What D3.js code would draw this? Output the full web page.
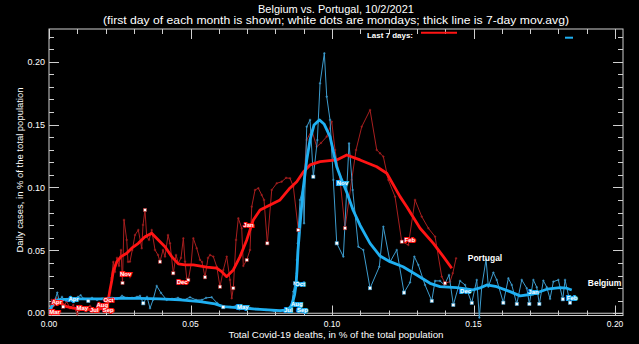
<!DOCTYPE html>
<html><head><meta charset="utf-8">
<script src="https://cdn.jsdelivr.net/npm/d3@7"></script>
<style>
body{margin:0;background:#000}
svg{display:block;font-family:"Liberation Sans",Arial,sans-serif}
</style>
</head><body>
<svg id="chart" width="639" height="344"></svg>
<script>
// Daily cases vs. cumulative deaths, both in % of population.
// Each point: [cumulative deaths %, daily cases %, monday flag]
const portugalDaily = [
[0.00035,0.0042],[0.00095,0.0106],[0.00187,0.0066],[0.00272,0.0119],[0.00389,0.0079],[0.00505,0.0052,1],
[0.00625,0.0092],[0.00742,0.0040],[0.00859,0.0066],[0.0100,-0.0010],[0.01095,0.0058],[0.01237,0.0034,1],
[0.01332,0.0040],[0.01449,0.0058],[0.01625,0.0026],[0.01802,0.0048],[0.01919,0.0013],[0.02039,0.0066],
[0.02095,0.0098,1],[0.02155,0.0169],[0.02208,0.0281],[0.02272,0.0408],[0.02332,0.0328],[0.02403,0.0440],
[0.02473,0.0376],[0.02544,0.0503],[0.02597,0.0241,1],[0.02650,0.0742],[0.02746,0.0583],[0.02792,0.0408],
[0.02860,0.0410],[0.02943,0.0503],[0.03039,0.0622],[0.03155,0.0662],[0.03276,0.0517],[0.03322,0.0702],
[0.03392,0.0821,1],[0.03452,0.0609],[0.03534,0.0583],[0.03629,0.0662],[0.03746,0.0503],[0.03852,0.0463],
[0.03922,0.0410,1],[0.04028,0.0503],[0.04099,0.0450],[0.04205,0.0622],[0.04276,0.0556],[0.04392,0.0318,1],
[0.04488,0.0463],[0.04569,0.0397],[0.04664,0.0440],[0.04746,0.0596],[0.04806,0.0410],[0.04866,0.0278],
[0.04922,0.0265,1],[0.05018,0.0384],[0.05099,0.0596],[0.05219,0.0517],[0.05336,0.0424],[0.05406,0.0408],
[0.05512,0.0286,1],[0.05618,0.0440],[0.05689,0.0463],[0.05806,0.0450],[0.05926,0.0370],[0.06042,0.0211,1],
[0.06159,0.0344],[0.06279,0.0450],[0.06396,0.0265],[0.06456,0.0119],[0.06512,0.0199,1],[0.06608,0.0583],
[0.06689,0.0755],[0.06809,0.0676],[0.06866,0.0376],[0.06986,0.0424,1],[0.07102,0.0503],[0.07163,0.0847],
[0.07279,0.0980],[0.07396,0.0994],[0.07516,0.0940],[0.07597,0.0901],[0.07714,0.0556,1],[0.07869,0.0980],
[0.08046,0.1033],[0.08223,0.1046],[0.08375,0.1076],[0.08516,0.1073],[0.08633,0.1006],[0.08809,0.0662,1],
[0.08986,0.1006],[0.09106,0.1378],[0.09283,0.1457],[0.09459,0.1324],[0.09611,0.1354],[0.09813,0.1404],
[0.09989,0.1523],[0.10106,0.1298],[0.10283,0.1060],[0.10459,0.0676,1],[0.10696,0.1060],[0.10848,0.1298],
[0.11049,0.1483],[0.11343,0.1616],[0.11580,0.1298],[0.11696,0.1272],[0.11813,0.1245],[0.11989,0.1060],
[0.12226,0.0927],[0.12463,0.0569,1],[0.12696,0.0543],[0.12933,0.0901],[0.13170,0.0768],[0.13403,0.0676],
[0.13640,0.0609],[0.13876,0.0291],[0.13993,0.0238,1],[0.14170,0.0251],[0.14265,0.0318],[0.14382,0.0437]
];
const portugalAvg = [
[0,0.0018],[0.00106,0.0050],[0.00212,0.0079],[0.00329,0.0092],[0.00459,0.0074],[0.00625,0.0052],
[0.00859,0.0040],[0.01212,0.0032],[0.01686,0.0026],[0.01919,0.0040],[0.02039,0.0066],[0.02095,0.0106],
[0.02155,0.0185],[0.02216,0.0257],[0.02272,0.0336],[0.02392,0.0408],[0.02544,0.0450],[0.02746,0.0477],
[0.02922,0.0517],[0.03155,0.0556],[0.03392,0.0609],[0.03629,0.0636],[0.03862,0.0583],[0.04099,0.0529],
[0.04336,0.0450],[0.04569,0.0392],[0.04806,0.0384],[0.05099,0.0384],[0.05572,0.0366],[0.05926,0.0358],
[0.06113,0.0328],[0.06279,0.0291],[0.06512,0.0344],[0.06749,0.0450],[0.06986,0.0583],[0.07219,0.0742],
[0.07456,0.0821],[0.07809,0.0861],[0.08163,0.0901],[0.08516,0.0996],[0.08753,0.1046],[0.08986,0.1123],
[0.09223,0.1179],[0.09576,0.1205],[0.10166,0.1219],[0.10519,0.1258],[0.10989,0.1219],[0.11580,0.1165],
[0.11933,0.1113],[0.12403,0.0927],[0.12640,0.0847],[0.13110,0.0676],[0.13580,0.0556],[0.13933,0.0450],
[0.14230,0.0358]
];
const belgiumDaily = [
[0,0.0002],[0.00071,0.0018],[0.00141,0.0058],[0.00212,0.0106],[0.00293,0.0164],[0.00353,0.0106],
[0.00459,0.0130],[0.00601,0.0098],[0.00742,0.0122],[0.00883,0.0106],[0.01025,0.0130],[0.01120,0.0143],
[0.01237,0.0114],[0.01389,0.0098,1],[0.01519,0.0122],[0.01696,0.0106],[0.01873,0.0114],[0.02049,0.0106],
[0.02226,0.0122],[0.02403,0.0114],[0.02580,0.0138],[0.02756,0.0122],[0.02933,0.0122],[0.03110,0.0130],
[0.03216,0.0138],[0.03332,0.0079,1],[0.03463,0.0130],[0.03569,0.0040],[0.03675,0.0106],[0.03806,0.0217],
[0.03958,0.0161],[0.04159,0.0106],[0.04346,0.0114],[0.04558,0.0122],[0.04770,0.0106],[0.04982,0.0127],
[0.05194,0.0106],[0.05406,0.0106],[0.05548,0.0122],[0.05749,0.0127],[0.05936,0.0082],[0.06159,0.0048,1],
[0.06396,0.0050],[0.06608,0.0058],[0.06820,0.0050],[0.07102,0.0042],[0.07385,0.0034],[0.07668,0.0026],
[0.07951,0.0018],[0.08163,0.0018],[0.08339,0.0026],[0.08481,0.0042],[0.08576,0.0079],[0.08633,0.0172],
[0.08693,0.0238,1],[0.08753,0.0318],[0.08760,0.0424],[0.08788,0.0556],[0.08809,0.0662],[0.08869,0.0901],
[0.08986,0.1006],[0.09011,0.0715],[0.09106,0.1483],[0.09223,0.1537],[0.09339,0.1086,1],[0.09481,0.1377],
[0.09576,0.1828],[0.09728,0.2067],[0.09813,0.1722],[0.09929,0.1537],[0.10046,0.1060],[0.10166,0.0556,1],
[0.10399,0.0450],[0.10601,0.1351],[0.10731,0.0980],[0.10929,0.0529],[0.11106,0.0503],[0.11343,0.0199,1],
[0.11671,0.0370],[0.11813,0.0688],[0.12049,0.0408],[0.12286,0.0503],[0.12544,0.0164,1],[0.12756,0.0245],
[0.12908,0.0450],[0.13049,0.0384],[0.13286,0.0225],[0.13523,0.0098,1],[0.13640,0.0257],[0.13816,0.0257],
[0.13968,0.0225],[0.14134,0.0304],[0.14286,0.0066,1],[0.14523,0.0257],[0.14700,0.0225],[0.14936,0.0082,1],
[0.15113,0.0265],[0.15205,-0.0035],[0.15290,0.0211],[0.15442,0.0429],[0.15523,0.0211],[0.15700,0.0323],
[0.15820,0.0265],[0.16053,0.0084,1],[0.16230,0.0278],[0.16350,0.0225],[0.16527,0.0074,1],[0.16703,0.0265],
[0.16880,0.0199],[0.16972,0.0074,1],[0.17113,0.0265],[0.17233,0.0207],[0.17325,0.0074,1],[0.17466,0.0259],
[0.17587,0.0207],[0.17703,0.0114],[0.17820,0.0251],[0.17996,0.0265],[0.18152,0.0111,1],[0.18233,0.0265],
[0.18410,0.0084,1]
];
const belgiumAvg = [
[0,0.0018],[0.00106,0.0058],[0.00212,0.0090],[0.00318,0.0106],[0.00565,0.0110],[0.01095,0.0114],
[0.01802,0.0114],[0.02509,0.0118],[0.03216,0.0118],[0.03922,0.0114],[0.04629,0.0106],[0.05336,0.0092],
[0.05866,0.0074],[0.06159,0.0052],[0.06749,0.0042],[0.07456,0.0030],[0.08163,0.0021],[0.08445,0.0026],
[0.08587,0.0066],[0.08675,0.0145],[0.08728,0.0225],[0.08763,0.0344],[0.08799,0.0503],[0.08869,0.0702],
[0.08975,0.0980],[0.09106,0.1219],[0.09223,0.1378],[0.09364,0.1497],[0.09551,0.1537],[0.09717,0.1505],
[0.09929,0.1404],[0.10166,0.1165],[0.10318,0.1074],[0.10530,0.0956],[0.10742,0.0821],[0.10989,0.0700],
[0.11343,0.0556],[0.11696,0.0455],[0.12049,0.0410],[0.12509,0.0370],[0.12993,0.0304],[0.13463,0.0238],
[0.13816,0.0211],[0.14406,0.0204],[0.14982,0.0185],[0.15230,0.0201],[0.15466,0.0225],[0.15820,0.0211],
[0.16290,0.0172],[0.16643,0.0138],[0.17113,0.0153],[0.17587,0.0191],[0.18057,0.0204],[0.18293,0.0199],
[0.18470,0.0185]
];
// First-of-month labels: [text, deaths %, cases %]
const portugalMonths = [
["Mar",0.0001,0.0008],["Apr",0.00095,0.0090],["May",0.0097,0.0040],["Jul",0.01449,0.0030],
["Aug",0.01678,0.0066],["Sep",0.01900,0.0026],["Oct",0.01926,0.0103],["Nov",0.02509,0.0312],
["Dec",0.04512,0.0249],["Jan",0.06866,0.0704],["Feb",0.12562,0.0585]
];
const belgiumMonths = [
["Apr",0.00689,0.0114],["May",0.06643,0.0054],["Jul",0.08300,0.0030],["Aug",0.08551,0.0072],
["Sep",0.08760,0.0026],["Oct",0.08693,0.0238],["Nov",0.10166,0.1041],["Dec",0.14523,0.0179],
["Jan",0.16936,0.0172],["Feb",0.18293,0.0119]
];
const xMajorTicks = [0, 0.05, 0.10, 0.15, 0.20];
const yMajorTicks = [0, 0.05, 0.10, 0.15, 0.20];

const colors = {
  ptThin:"#a81f1f", ptThick:"#ff1414",
  beThin:"#3d9cce", beThick:"#1fb0f2",
  axis:"#cfcfcf"
};

const svg = d3.select("#chart");
svg.append("rect").attr("width",639).attr("height",344).attr("fill","#000");

const L=49, R=623, T=29, B=315.5;
const x = d3.scaleLinear().domain([0,0.2028]).range([L,R]);
const y = d3.scaleLinear().domain([-0.0018,0.226]).range([B,T]);

// Titles
svg.append("text").attr("x",336).attr("y",12.5).attr("text-anchor","middle")
  .attr("fill","#fff").attr("font-size",11).text("Belgium vs. Portugal, 10/2/2021");
svg.append("text").attr("x",336).attr("y",23.5).attr("text-anchor","middle")
  .attr("fill","#fff").attr("font-size",11)
  .attr("textLength",466).attr("lengthAdjust","spacingAndGlyphs")
  .text("(first day of each month is shown; white dots are mondays; thick line is 7-day mov.avg)");

// Axes and frame
const minorX = d3.range(0,0.2001,0.01);
const minorY = d3.range(0,0.2201,0.01);
const ax = svg.append("g").attr("stroke",colors.axis).attr("stroke-width",1).attr("fill","none");
ax.append("rect").attr("x",L).attr("y",T).attr("width",R-L).attr("height",B-T);
ax.append("line").attr("x1",L).attr("x2",R).attr("y1",y(0)).attr("y2",y(0));
const isMajor = v => Math.abs(v/0.05 - Math.round(v/0.05)) < 1e-6;
minorX.forEach(v=>{
  const len = isMajor(v)?10:5, px = Math.round(x(v))+0.5;
  ax.append("line").attr("x1",px).attr("x2",px).attr("y1",B).attr("y2",B-len);
  ax.append("line").attr("x1",px).attr("x2",px).attr("y1",T).attr("y2",T+len);
});
minorY.forEach(v=>{
  const len = isMajor(v)?10:5, py = Math.round(y(v))+0.5;
  ax.append("line").attr("x1",L).attr("x2",L+len).attr("y1",py).attr("y2",py);
  ax.append("line").attr("x1",R).attr("x2",R-len).attr("y1",py).attr("y2",py);
});
const fmt = d3.format(".2f");
svg.append("g").selectAll("text").data(xMajorTicks).join("text")
  .attr("x",d=>x(d)).attr("y",326.5).attr("text-anchor","middle")
  .attr("fill","#fff").attr("font-size",8.5).text(fmt);
svg.append("g").selectAll("text").data(yMajorTicks).join("text")
  .attr("x",45).attr("y",d=>y(d)+3.2).attr("text-anchor","end")
  .attr("fill","#fff").attr("font-size",9).text(fmt);
svg.append("text").attr("x",336).attr("y",337.5).attr("text-anchor","middle")
  .attr("fill","#fff").attr("font-size",8.5)
  .attr("textLength",215).attr("lengthAdjust","spacingAndGlyphs")
  .text("Total Covid-19 deaths, in % of the total population");
svg.append("text").attr("transform","translate(23,170) rotate(-90)").attr("text-anchor","middle")
  .attr("fill","#fff").attr("font-size",8.5)
  .attr("textLength",165).attr("lengthAdjust","spacingAndGlyphs")
  .text("Daily cases, in % of the total population");

// Series
const line = d3.line().x(d=>x(d[0])).y(d=>y(d[1]));
const g = svg.append("g");
function thin(data,color){
  g.append("path").attr("d",line(data)).attr("fill","none").attr("stroke",color).attr("stroke-width",1);
  g.append("g").selectAll("path").data(data.filter(d=>!d[2])).join("path")
    .attr("d",d=>`M${x(d[0])-1.2},${y(d[1])}h2.4M${x(d[0])},${y(d[1])-1.2}v2.4`)
    .attr("stroke",color).attr("stroke-width",0.8);
}
function thick(data,color){
  g.append("path").attr("d",line(data)).attr("fill","none").attr("stroke",color)
    .attr("stroke-width",2.8).attr("stroke-linejoin","round");
}
function mondays(data,color){
  g.append("g").selectAll("rect").data(data.filter(d=>d[2])).join("rect")
    .attr("x",d=>x(d[0])-1.6).attr("y",d=>y(d[1])-1.6).attr("width",3.2).attr("height",3.2)
    .attr("fill","#fff").attr("stroke",color).attr("stroke-width",0.6);
}
thin(portugalDaily,colors.ptThin);
thin(belgiumDaily,colors.beThin);
thick(portugalAvg,colors.ptThick);
thick(belgiumAvg,colors.beThick);
mondays(portugalDaily,colors.ptThin);
mondays(belgiumDaily,colors.beThin);

// Month labels
function months(data,color){
  g.append("g").selectAll("text").data(data).join("text")
    .attr("x",d=>x(d[1])).attr("y",d=>y(d[2])+2.2)
    .attr("font-size",6).attr("font-weight","bold")
    .attr("fill","#fff").attr("stroke",color).attr("stroke-width",1.8)
    .attr("paint-order","stroke").text(d=>d[0]);
}
months(portugalMonths,colors.ptThick);
months(belgiumMonths,colors.beThick);

// Country names beside the last averaged point
const ptLast = portugalAvg[portugalAvg.length-1], beLast = belgiumAvg[belgiumAvg.length-1];
svg.append("text").attr("x",x(ptLast[0])+16).attr("y",y(ptLast[1])-7)
  .attr("fill","#fff").attr("font-size",8.5).attr("font-weight","bold").text("Portugal");
svg.append("text").attr("x",x(beLast[0])+16).attr("y",y(beLast[1])-4)
  .attr("fill","#fff").attr("font-size",8.5).attr("font-weight","bold").text("Belgium");

// Legend
svg.append("text").attr("x",367).attr("y",37.5).attr("fill","#fff")
  .attr("font-size",8).attr("font-weight","bold")
  .attr("textLength",46).attr("lengthAdjust","spacingAndGlyphs").text("Last 7 days:");
svg.append("line").attr("x1",421).attr("x2",457).attr("y1",32.7).attr("y2",32.7)
  .attr("stroke",colors.ptThick).attr("stroke-width",2);
svg.append("line").attr("x1",565).attr("x2",573).attr("y1",37.7).attr("y2",37.7)
  .attr("stroke",colors.beThick).attr("stroke-width",2);
</script>
</body></html>
